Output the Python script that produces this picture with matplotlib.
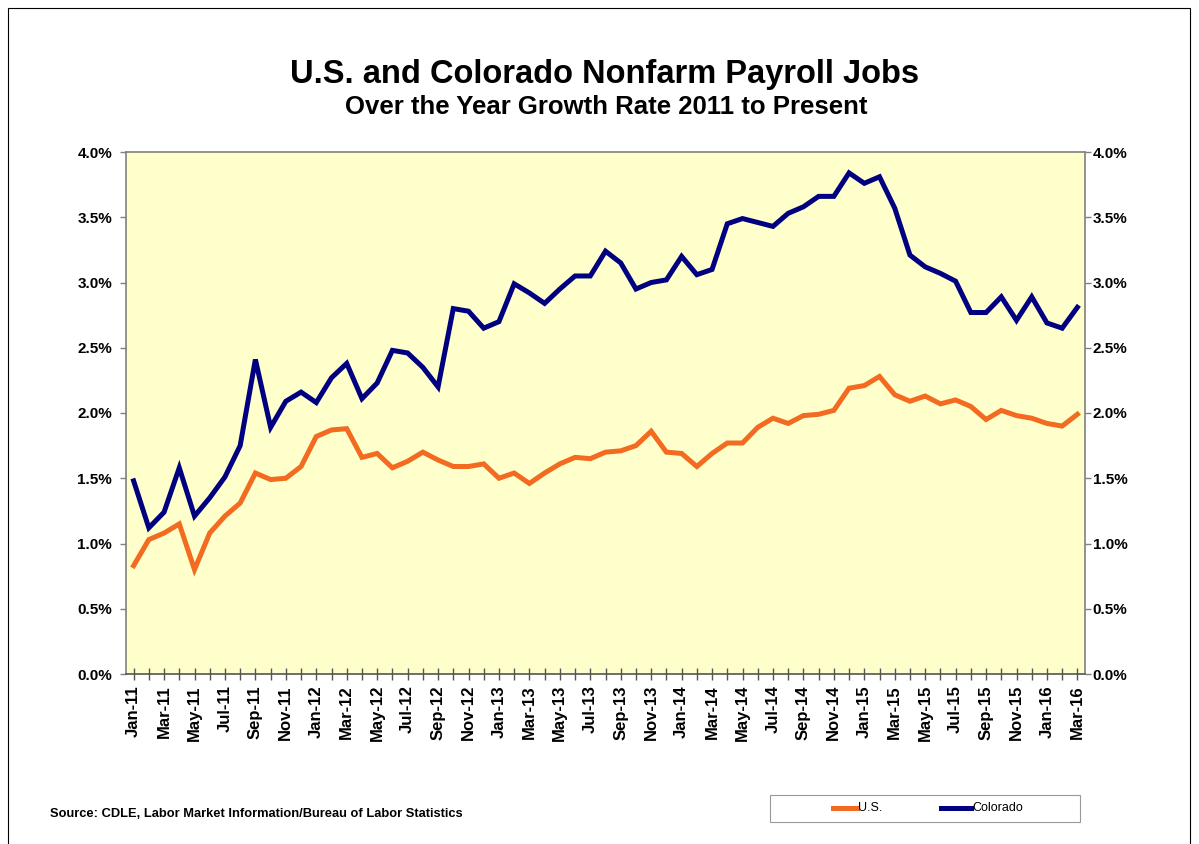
import matplotlib
matplotlib.use("Agg")
import matplotlib.pyplot as plt
from matplotlib.patches import Rectangle
from matplotlib.lines import Line2D
from matplotlib.ticker import FuncFormatter, MultipleLocator

plt.rcParams['font.family'] = ['Liberation Sans', 'DejaVu Sans']

months = []
for yr in range(11, 17):
    for m in ['Jan', 'Feb', 'Mar', 'Apr', 'May', 'Jun', 'Jul', 'Aug', 'Sep', 'Oct', 'Nov', 'Dec']:
        months.append(f"{m}-{yr:02d}")
months = months[:63]  # Jan-11 .. Mar-16

colorado = [1.48, 1.12, 1.24, 1.58, 1.21, 1.35, 1.51, 1.75, 2.41, 1.89, 2.09, 2.16,
            2.08, 2.27, 2.38, 2.11, 2.23, 2.48, 2.46, 2.35, 2.20, 2.80, 2.78, 2.65,
            2.70, 2.99, 2.92, 2.84, 2.95, 3.05, 3.05, 3.24, 3.15, 2.95, 3.00, 3.02,
            3.20, 3.06, 3.10, 3.45, 3.49, 3.46, 3.43, 3.53, 3.58, 3.66, 3.66, 3.84,
            3.76, 3.81, 3.57, 3.21, 3.12, 3.07, 3.01, 2.77, 2.77, 2.89, 2.71, 2.89,
            2.69, 2.65, 2.81]

us = [0.83, 1.03, 1.08, 1.15, 0.80, 1.08, 1.21, 1.31, 1.54, 1.49, 1.50, 1.59,
      1.82, 1.87, 1.88, 1.66, 1.69, 1.58, 1.63, 1.70, 1.64, 1.59, 1.59, 1.61,
      1.50, 1.54, 1.46, 1.54, 1.61, 1.66, 1.65, 1.70, 1.71, 1.75, 1.86, 1.70,
      1.69, 1.59, 1.69, 1.77, 1.77, 1.89, 1.96, 1.92, 1.98, 1.99, 2.02, 2.19,
      2.21, 2.28, 2.14, 2.09, 2.13, 2.07, 2.10, 2.05, 1.95, 2.02, 1.98, 1.96,
      1.92, 1.90, 1.99]

series_names = ['U.S.', 'Colorado']
US_COLOR = '#F26B21'
CO_COLOR = '#000080'
LW = 3.6

W, H = 1199, 844
fig = plt.figure(figsize=(W / 100, H / 100), dpi=100)
fig.patch.set_facecolor('white')

# outer frame
fig.add_artist(Rectangle((8 / W, -0.01), (1190 - 8) / W, 1 - 8 / H + 0.01,
                         transform=fig.transFigure, fill=False,
                         edgecolor='black', linewidth=0.8))

left, right, top, bottom = 126, 1085, 152, 674
ax = fig.add_axes([left / W, 1 - bottom / H, (right - left) / W, (bottom - top) / H])
ax.set_facecolor('#FFFFCC')

x = list(range(len(months)))
ax.plot(x, us, color=US_COLOR, linewidth=LW, solid_joinstyle='miter', label=series_names[0])
ax.plot(x, colorado, color=CO_COLOR, linewidth=LW, solid_joinstyle='miter', label=series_names[1])

ax.set_xlim(-0.5, len(months) - 0.5)
ax.set_ylim(0, 4.0)

for s in ax.spines.values():
    s.set_color('#808080')
    s.set_linewidth(1.2)
ax.spines['bottom'].set_color('#555555')

pct = FuncFormatter(lambda v, p: f"{v:.1f}%")
ax.yaxis.set_major_locator(MultipleLocator(0.5))
ax.yaxis.set_major_formatter(pct)
ax.tick_params(axis='y', which='both', left=True, right=False, direction='out',
               length=4, width=1, color='#808080', labelsize=11, pad=6)
for lab in ax.get_yticklabels():
    lab.set_fontweight('bold')

ax2 = ax.twinx()
ax2.set_ylim(0, 4.0)
ax2.yaxis.set_major_locator(MultipleLocator(0.5))
ax2.yaxis.set_major_formatter(pct)
ax2.tick_params(axis='y', direction='out', length=4, width=1, color='#808080',
                labelsize=11, pad=1.5)
for lab in ax2.get_yticklabels():
    lab.set_fontweight('bold')
for s in ax2.spines.values():
    s.set_visible(False)

ax.set_xticks(x)
ax.set_xticklabels([m if i % 2 == 0 else '' for i, m in enumerate(months)],
                   rotation=90, fontsize=12, fontweight='bold')
ax.tick_params(axis='x', direction='inout', length=8, width=1, color='#555555', pad=4)

fig.text(605 / W, 1 - 75 / H, 'U.S. and Colorado Nonfarm Payroll Jobs',
         ha='center', va='center', fontsize=23.5, fontweight='bold')
fig.text(606 / W, 1 - 107 / H, 'Over the Year Growth Rate 2011 to Present',
         ha='center', va='center', fontsize=18.5, fontweight='bold')

fig.text(50 / W, 1 - 814 / H,
         'Source: CDLE, Labor Market Information/Bureau of Labor Statistics',
         ha='left', va='center', fontsize=9.3, fontweight='bold')

# legend box
fig.add_artist(Rectangle((770 / W, 1 - 822 / H), (1080 - 770) / W, (822 - 795) / H,
                         transform=fig.transFigure, fill=False,
                         edgecolor='#999999', linewidth=0.8))
ly = 1 - 808 / H
for (x0, x1, tx), name, col in zip([(833, 857, 858), (941, 971, 972)],
                                   series_names, [US_COLOR, CO_COLOR]):
    fig.add_artist(Line2D([x0 / W, x1 / W], [ly, ly], transform=fig.transFigure,
                          color=col, linewidth=LW))
    fig.text(tx / W, ly, name, ha='left', va='center', fontsize=9)

fig.savefig('out.png', dpi=100, facecolor='white')
